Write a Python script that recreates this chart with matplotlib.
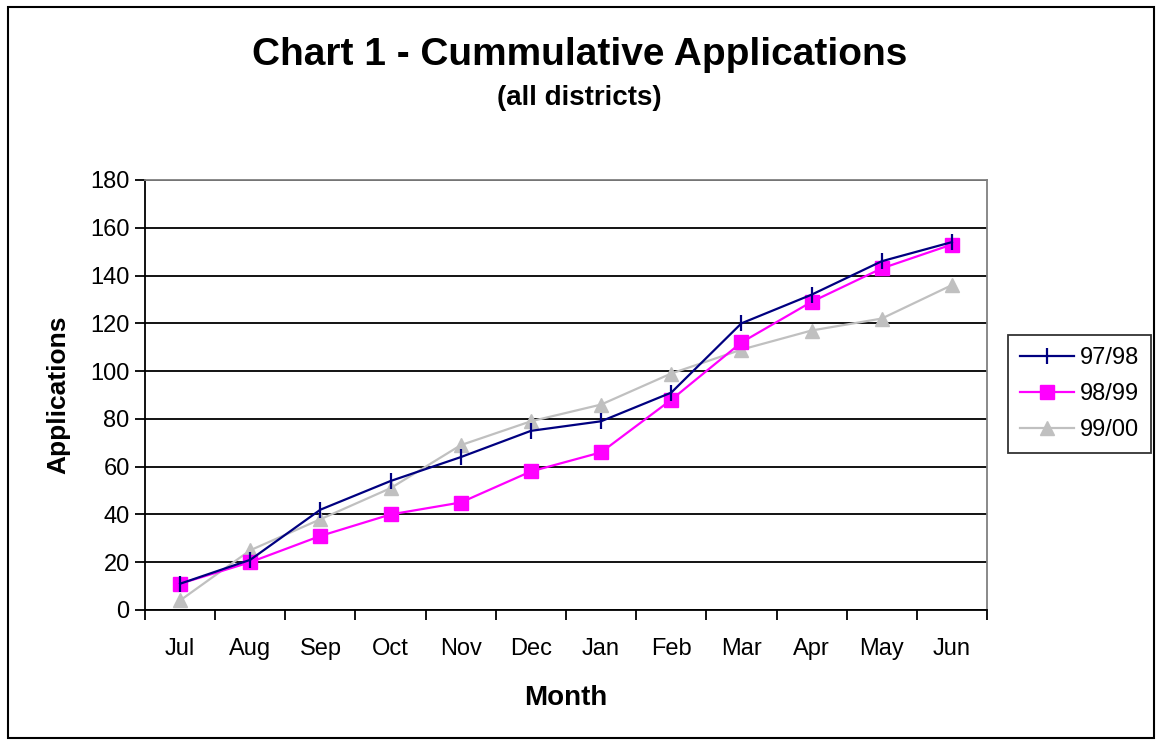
import numpy as np
import matplotlib
matplotlib.use('Agg')
import matplotlib.pyplot as plt
from matplotlib.patches import Rectangle

plt.rcParams['font.family'] = ['Liberation Sans', 'DejaVu Sans']

months = ['Jul', 'Aug', 'Sep', 'Oct', 'Nov', 'Dec', 'Jan', 'Feb', 'Mar', 'Apr', 'May', 'Jun']
apps_9798 = [11, 21, 42, 54, 64, 75, 79, 91, 120, 132, 146, 154]
apps_9899 = [11, 20, 31, 40, 45, 58, 66, 88, 112, 129, 143, 153]
apps_9900 = [4, 25, 38, 51, 69, 79, 86, 99, 109, 117, 122, 136]

fig = plt.figure(figsize=(11.59, 7.43), dpi=100)
ax = fig.add_axes([145/1159, 1 - 610/743, (987-145)/1159, (610-180)/743])

x = np.arange(len(months))
ax.plot(x, apps_9798, color='#000080', lw=1.6, marker='|', ms=12, mew=1.6, label='97/98', zorder=4)
ax.plot(x, apps_9899, color='#FF00FF', lw=1.6, marker='s', ms=10, label='98/99', zorder=3)
ax.plot(x, apps_9900, color='#C0C0C0', lw=1.6, marker='^', ms=10, label='99/00', zorder=2)

ax.set_xlim(-0.5, len(months) - 0.5)
ax.set_ylim(0, 180)
ax.set_yticks(range(0, 181, 20))
ax.set_xticks(x)
ax.set_xticklabels(months)
ax.set_xticks(np.arange(-0.5, len(months), 1), minor=True)
ax.tick_params(axis='x', which='major', length=0, pad=20, labelsize=17)
ax.tick_params(axis='x', which='minor', length=7, width=1.3, direction='out')
ax.tick_params(axis='y', length=7, width=1.3, direction='out', labelsize=17, pad=4)
ax.yaxis.grid(True, color='black', lw=1.3)
ax.set_axisbelow(True)

for s in ['top', 'right']:
    ax.spines[s].set_color('#808080')
    ax.spines[s].set_linewidth(1.3)
for s in ['left', 'bottom']:
    ax.spines[s].set_linewidth(1.3)

ax.set_ylabel('Applications', fontsize=19, fontweight='bold', labelpad=14)
ax.set_xlabel('Month', fontsize=20, fontweight='bold', labelpad=18)

fig.text(0.5, 1 - 55/743, 'Chart 1 - Cummulative Applications', ha='center', va='center',
         fontsize=28, fontweight='bold')
fig.text(0.5, 1 - 98/743, '(all districts)', ha='center', va='center',
         fontsize=20, fontweight='bold')

leg = ax.legend(loc='center left', bbox_to_anchor=(1008/1159, 1 - 394/743),
                bbox_transform=fig.transFigure, frameon=True, fancybox=False,
                fontsize=17, handlelength=2.3, handletextpad=0.25, borderpad=0.5,
                labelspacing=0.6, borderaxespad=0)
leg.get_frame().set_edgecolor('black')
leg.get_frame().set_linewidth(1.3)

fig.patches.append(Rectangle((8/1159, 1 - 738/743), 1146/1159, 731/743,
                             transform=fig.transFigure, fill=False, edgecolor='black', lw=1.5))

fig.savefig('out.png', dpi=100)
